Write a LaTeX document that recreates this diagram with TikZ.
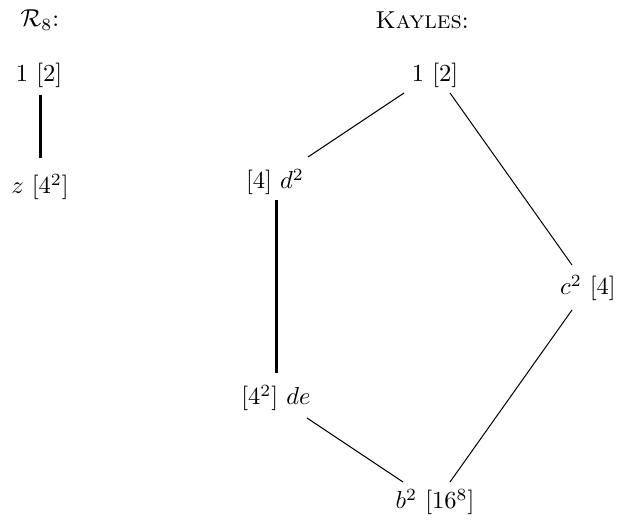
\documentclass[tikz,border=0pt]{standalone}
\usepackage{graphicx}
\newcommand\bigtxt[1]{\scalebox{2.45}{#1}}
\begin{document}
\begin{tikzpicture}[x=1pt,y=-1pt,
  lbl/.style={inner sep=0pt},
  thin/.style={line width=1pt},
  thick/.style={line width=3pt}]
\useasboundingbox (0,0) rectangle (619,521);
\node[lbl] (r8) at (40,20) {\bigtxt{$\mathcal{R}_8$:}};
\node[lbl] (ky) at (422,20) {\bigtxt{\textsc{Kayles}:}};
% left lattice
\node[lbl] (l1) at (39,75) {\bigtxt{$1\ [2]$}};
\node[lbl] (lz) at (40,187) {\bigtxt{$z\ [4^2]$}};
\draw[thick] ([shift={(1,20)}]l1.center) -- ([shift={(0,-29)}]lz.center);
% Kayles lattice
\node[lbl] (k1) at (435,75) {\bigtxt{$1\ [2]$}};
\node[lbl] (kd) at (275,182) {\bigtxt{$[4]\ d^2$}};
\node[lbl] (kc) at (588,288) {\bigtxt{$c^2\ [4]$}};
\node[lbl] (kde) at (276,398) {\bigtxt{$[4^2]\ de$}};
\node[lbl] (kb) at (435,502) {\bigtxt{$b^2\ [16^8]$}};
\draw[thin] ([shift={(-31,18)}]k1.center) -- ([shift={(33,-25)}]kd.center);
\draw[thin] ([shift={(15,18)}]k1.center) -- ([shift={(-16,-23)}]kc.center);
\draw[thick] ([shift={(1,18)}]kd.center) -- ([shift={(0,-25)}]kde.center);
\draw[thin] ([shift={(31,20)}]kde.center) -- ([shift={(-32,-20)}]kb.center);
\draw[thin] ([shift={(-16,22)}]kc.center) -- ([shift={(15,-20)}]kb.center);
\end{tikzpicture}
\end{document}
